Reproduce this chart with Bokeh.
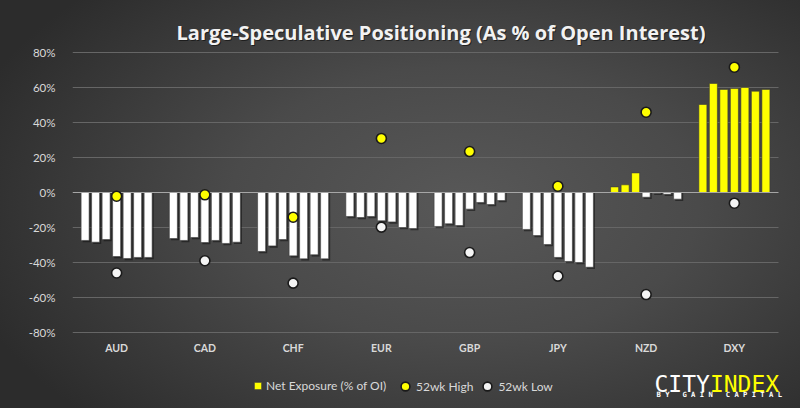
from bokeh.plotting import figure
from bokeh.models import (ColumnDataSource, FixedTicker, PrintfTickFormatter, Range1d,
                          Label, Legend, LegendItem)
from bokeh.core.properties import value
from bokeh.embed import file_html
from bokeh.resources import INLINE

# ---- data (values in % of open interest) ----
currencies = ["AUD", "CAD", "CHF", "EUR", "GBP", "JPY", "NZD", "DXY"]
aud = [-27.4, -28.4, -26.9, -36.6, -37.7, -37.1, -37.1]
cad = [-26.3, -27.4, -25.7, -28.6, -27.4, -29.1, -28.4]
chf = [-33.7, -30.5, -26.9, -36.2, -37.9, -35.6, -37.9]
eur = [-13.7, -14.3, -13.7, -16.2, -16.8, -20.0, -20.6]
gbp = [-19.4, -17.9, -18.9, -9.5, -5.7, -6.9, -4.6]
jpy = [-21.1, -24.6, -29.7, -37.1, -39.4, -40.0, -42.7]
nzd = [3.2, 4.4, 11.2, -2.7, -0.4, -1.0, -3.8]
dxy = [50.3, 62.3, 58.9, 59.4, 60.0, 57.9, 58.9]
high_52wk = [-2.1, -1.3, -14.1, 30.9, 23.4, 3.6, 45.9, 71.6]
low_52wk = [-46.0, -39.0, -51.8, -19.8, -34.3, -47.8, -58.3, -6.1]
y_ticks = [-80, -60, -40, -20, 0, 20, 40, 60, 80]

series = [aud, cad, chf, eur, gbp, jpy, nzd, dxy]
ng = len(currencies)

YELLOW = "#FFFF00"
WHITE = "#FFFFFF"
TXT = "#D9D9D9"

# layout constants (pixels)
W, H = 800, 408
LEFT = 72
PX_PER_UNIT = 88.25
PX_PER_PCT = 1.75
TOP_80 = 52  # pixel row of the 80% line
y_top = y_ticks[-1] + TOP_80 / PX_PER_PCT
y_bot = y_top - H / PX_PER_PCT
x_right = (W - LEFT) / PX_PER_UNIT


def y_at(px):
    return y_top - px / PX_PER_PCT


def x_at(px):
    return (px - LEFT) / PX_PER_UNIT


pitch = 0.119
bw = 0.091
bx, btop, bcol = [], [], []
for gi, vals in enumerate(series):
    n = len(vals)
    for bi, v in enumerate(vals):
        bx.append(gi + 0.5 + (bi - (n - 1) / 2) * pitch)
        btop.append(v)
        bcol.append(YELLOW if v >= 0 else WHITE)
bars_src = ColumnDataSource(dict(x=bx, top=btop, color=bcol,
                                 sx=[x + 0.018 for x in bx],
                                 stop=[t - 1.0 if t < 0 else t for t in btop],
                                 salpha=[0.0 if t >= 0 else 0.55 for t in btop]))
centers = [i + 0.5 for i in range(ng)]
mk_src = ColumnDataSource(dict(x=centers, hi=high_52wk, lo=low_52wk))

p = figure(width=W, height=H, output_backend="svg", toolbar_location=None, title=None,
           x_range=Range1d(0, x_right), y_range=Range1d(y_bot, y_top),
           x_axis_location=None, y_axis_location="left",
           min_border_left=LEFT, min_border_right=0, min_border_top=0, min_border_bottom=0)
p.background_fill_alpha = 0
p.border_fill_alpha = 0
p.outline_line_color = None
p.styles = {"background": "radial-gradient(ellipse 65% 75% at 58% 50%, #585858 0%, #4a4a4a 45%, #2c2c2c 100%)"}

# y axis
p.yaxis.ticker = FixedTicker(ticks=y_ticks)
p.yaxis.formatter = PrintfTickFormatter(format="%d%%")
p.yaxis.axis_line_color = None
p.yaxis.major_tick_line_color = None
p.yaxis.minor_tick_line_color = None
p.yaxis.major_label_standoff = 11
p.yaxis.major_label_text_color = TXT
p.yaxis.major_label_text_font = "Lato"
p.yaxis.major_label_text_font_size = "11.5px"
p.xgrid.grid_line_color = None
p.ygrid.grid_line_color = None

# horizontal gridlines over the category span
grid_src = ColumnDataSource(dict(y=[t for t in y_ticks if t != 0]))
p.segment(x0=0, x1=ng, y0="y", y1="y", source=grid_src, line_color="#666666", line_width=1)

# bar shadows + bars
p.vbar(x="sx", top="stop", bottom=0, width=bw, source=bars_src,
       fill_color="#111111", fill_alpha="salpha", line_color=None)
bars = p.vbar(x="x", top="top", bottom=0, width=bw, source=bars_src,
              fill_color="color", line_color="#3a3a3a", line_width=0.6)

# zero line
p.segment(x0=[0], x1=[ng], y0=[0], y1=[0], line_color="#A6A6A6", line_width=1.2)

hi_r = p.scatter(x="x", y="hi", source=mk_src, size=10, fill_color=YELLOW,
                 line_color="#1A1A1A", line_width=1.6)
lo_r = p.scatter(x="x", y="lo", source=mk_src, size=10, fill_color="#F4F4F4",
                 line_color="#1A1A1A", line_width=1.6)

# category labels (x axis)
cat_src = ColumnDataSource(dict(x=centers, y=[y_at(347)] * ng, text=currencies))
p.text(x="x", y="y", text="text", source=cat_src, text_align="center", text_baseline="middle",
       text_font=value("Lato"), text_font_style="bold", text_font_size="10.5px", text_color=TXT)


def style_legend(lg):
    lg.background_fill_alpha = 0
    lg.border_line_alpha = 0
    lg.label_text_color = TXT
    lg.label_text_font = "Lato"
    lg.label_text_font_size = "12px"
    lg.padding = 0
    lg.margin = 0


# legend: bar swatch
legend1 = Legend(items=[
    LegendItem(label="Net Exposure (% of OI)", renderers=[bars], index=len(btop) - 1),
], orientation="horizontal", location=(181, 15))
style_legend(legend1)
legend1.glyph_width = 9
legend1.glyph_height = 9
legend1.label_standoff = 4
p.add_layout(legend1, "center")

# legend: markers
legend2 = Legend(items=[
    LegendItem(label="52wk High", renderers=[hi_r]),
    LegendItem(label="52wk Low", renderers=[lo_r]),
], orientation="horizontal", location=(322, 11))
style_legend(legend2)
legend2.glyph_width = 22
legend2.glyph_height = 22
legend2.label_standoff = -3
legend2.spacing = 3
p.add_layout(legend2, "center")

# title
title_text = "Large-Speculative Positioning (As % of Open Interest)"
tx, ty = x_at(440.5), y_at(31.5)
p.add_layout(Label(x=tx, y=ty, x_offset=1, y_offset=-1, text=title_text,
                   text_align="center", text_baseline="alphabetic", text_font="Open Sans",
                   text_font_style="bold", text_font_size="20px", text_color="#111111", text_alpha=0.7))
p.add_layout(Label(x=tx, y=ty, text=title_text,
                   text_align="center", text_baseline="alphabetic", text_font="Open Sans",
                   text_font_style="bold", text_font_size="20px", text_color="#F2F2F2"))

# logo
NB = "\u00a0"
p.add_layout(Label(x=x_at(654), y=y_at(383), text="CITY", text_align="left", text_baseline="alphabetic",
                   text_font="DejaVu Sans Mono", text_font_size="23px", text_color="#FFFFFF"))
p.add_layout(Label(x=x_at(654 + 4 * 13.85), y=y_at(383), text="INDEX", text_align="left",
                   text_baseline="alphabetic",
                   text_font="DejaVu Sans Mono", text_font_size="23px", text_color=YELLOW))
p.add_layout(Label(x=x_at(656), y=y_at(393.5), text=NB.join("BY GAIN CAPITAL").replace(NB + " " + NB, NB * 3),
                   text_align="left", text_baseline="alphabetic", text_font="DejaVu Sans Mono",
                   text_font_style="bold", text_font_size="7.2px", text_color="#FFFFFF"))

open("out.html", "w").write(file_html(p, INLINE))
